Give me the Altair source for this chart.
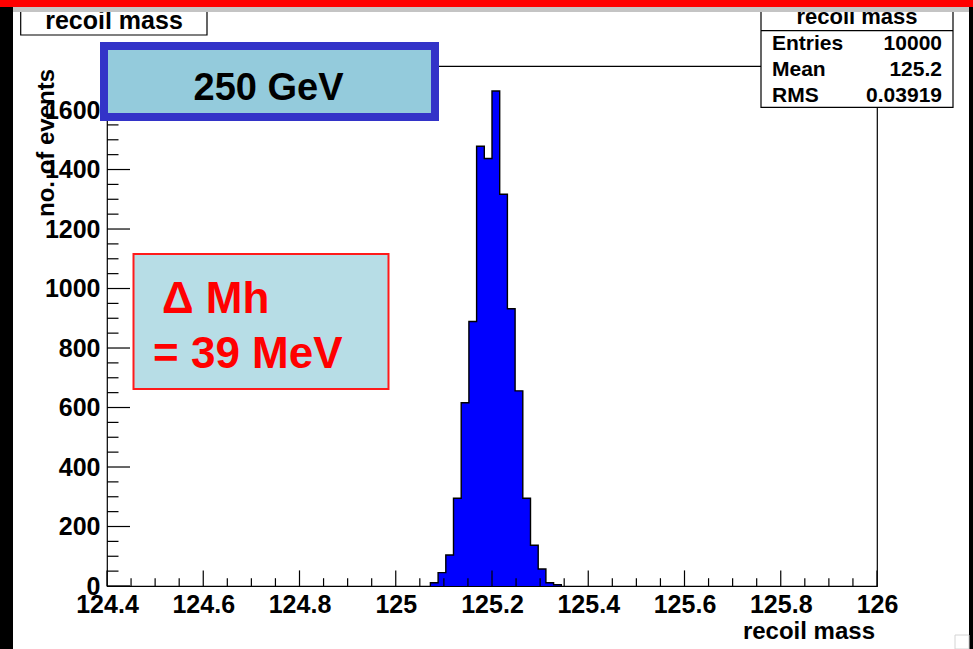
import altair as alt
import pandas as pd

# ---- histogram of the recoil mass (100 bins over 124.4 .. 126 GeV) ----
x_min, x_max = 124.4, 126.0
bin_width = 0.016
first_bin_low = 125.072          # lower edge of the first filled bin
counts = [11, 45, 104, 295, 616, 889, 1478, 1437, 1664, 1317,
          932, 656, 295, 137, 57, 11, 4]
y_max = 1748

# ---- axis ticks ----
x_major = [124.4, 124.6, 124.8, 125.0, 125.2, 125.4, 125.6, 125.8, 126.0]
x_minor = [round(124.4 + 0.05 * i, 3) for i in range(33) if i % 4]
y_major = [0, 200, 400, 600, 800, 1000, 1200, 1400, 1600]
y_minor = [50 * i for i in range(1, 35) if i % 4]

# ---- statistics box ----
stat_names = ["Entries", "Mean", "RMS"]
stat_values = ["10000", "125.2", "0.03919"]

FONT = "Liberation Sans"
W, H = 770, 520

# histogram drawn as one closed step polygon: up the lower edge, across each
# bin top, down the upper edge back to zero
edges = [first_bin_low + i * bin_width for i in range(len(counts) + 1)]
px, py = [edges[0]], [0]
for k, c in enumerate(counts):
    px += [edges[k], edges[k + 1]]
    py += [c, c]
px.append(edges[-1])
py.append(0)
hist = pd.DataFrame({"mass": px, "n": py, "i": list(range(len(px)))})

xs = alt.Scale(domain=[x_min, x_max], nice=False, zero=False)
ys = alt.Scale(domain=[0, y_max], nice=False, zero=False)

x_axis = alt.Axis(values=x_major, format="~g", ticks=False, tickSize=0, domain=False,
                  grid=False, labelFont=FONT, labelFontSize=25,
                  labelFontWeight="bold", labelColor="black", labelPadding=6,
                  labelFlush=False, labelOverlap=False, title=None)
y_axis = alt.Axis(values=y_major, format="d", ticks=False, tickSize=0, domain=False,
                  grid=False, labelFont=FONT, labelFontSize=25,
                  labelFontWeight="bold", labelColor="black", labelPadding=7,
                  labelFlush=False, labelOverlap=False, title=None)

histogram = alt.Chart(hist).mark_line(
    interpolate="linear", fill="#0000ff", stroke="black", strokeWidth=1.4
).encode(
    x=alt.X("mass:Q", scale=xs, axis=x_axis),
    y=alt.Y("n:Q", scale=ys, axis=y_axis),
    order="i:Q",
)


def xticks(values, length):
    return alt.Chart(pd.DataFrame({"v": values})).mark_rule(
        color="black", strokeWidth=1.2).encode(
        x=alt.X("v:Q", scale=xs, axis=x_axis),
        y=alt.value(H), y2=alt.value(H - length))


def yticks(values, length):
    return alt.Chart(pd.DataFrame({"v": values})).mark_rule(
        color="black", strokeWidth=1.2).encode(
        y=alt.Y("v:Q", scale=ys, axis=y_axis),
        x=alt.value(0), x2=alt.value(length))


one = pd.DataFrame({"k": [0]})


def box(x0, x1, y0, y1, fill, stroke=None, sw=0):
    kw = {"fill": fill}
    if stroke:
        kw.update(stroke=stroke, strokeWidth=sw)
    return alt.Chart(one).mark_rect(**kw).encode(
        x=alt.value(x0), x2=alt.value(x1), y=alt.value(y0), y2=alt.value(y1))


def label(txt, x, y, size, align="left", color="black", weight="bold",
          baseline="alphabetic", angle=0, font=FONT):
    return alt.Chart(one).mark_text(
        text=txt, align=align, baseline=baseline, font=font, fontSize=size,
        fontWeight=weight, color=color, angle=angle).encode(
        x=alt.value(x), y=alt.value(y))


def hline(x0, x1, y, color="black", sw=1.2):
    return alt.Chart(one).mark_rule(color=color, strokeWidth=sw).encode(
        x=alt.value(x0), x2=alt.value(x1), y=alt.value(y))


layers = [
    histogram,
    xticks(x_major, 15.6), xticks(x_minor, 7.8),
    yticks(y_major, 23), yticks(y_minor, 11.5),
    # axis titles
    label("recoil mass", 768, 573, 24, align="right"),
    label("no. of events", -60, 77, 24, align="center", baseline="middle", angle=270),
    # resolution annotation
    box(26.5, 281.5, 188, 323, "#b7dde6", "#ff1a1a", 2),
    label("Δ Mh", 55, 246.5, 44, color="#ff0000"),
    label("= 39 MeV", 46, 302, 44, color="#ff0000"),
    # beam energy annotation
    box(-3, 328, -20, 51, "#94cbdc", "#3333c8", 8),
    label("250 GeV", 161.5, 34, 38, align="center"),
    # histogram title
    box(-86.3, 100, -64, -31, "white", "black", 1.2),
    label("recoil mass", 7, -37, 25, align="center"),
    # statistics box
    box(654, 846, -64, 41.3, "white", "black", 1.2),
    hline(654, 846, -35.3),
    label("recoil mass", 750, -42, 22, align="center"),
]
for j, (nm, val) in enumerate(zip(stat_names, stat_values)):
    base = -16 + 26 * j
    layers.append(label(nm, 665, base, 21))
    layers.append(label(val, 835, base, 21, align="right"))

# window frame
layers += [
    box(-107, 866, -66, -59, "#ff0000"),
    box(-107, 866, -59, -54, "#c4c4c4"),
    box(-107, -94, -59, 583, "black"),
    box(862, 866, -59, 583, "black"),
    box(848, 862, 569, 583, "white", "#d4d4d4", 1),
]

chart = alt.layer(*layers).properties(
    width=W, height=H,
    padding={"left": 107, "top": 66, "right": 96, "bottom": 63},
    autosize=alt.AutoSizeParams(type="none"),
    background="white",
).configure_view(stroke="black", strokeWidth=1.2)

chart.save("out.html", embed_options={"renderer": "svg", "actions": False})
